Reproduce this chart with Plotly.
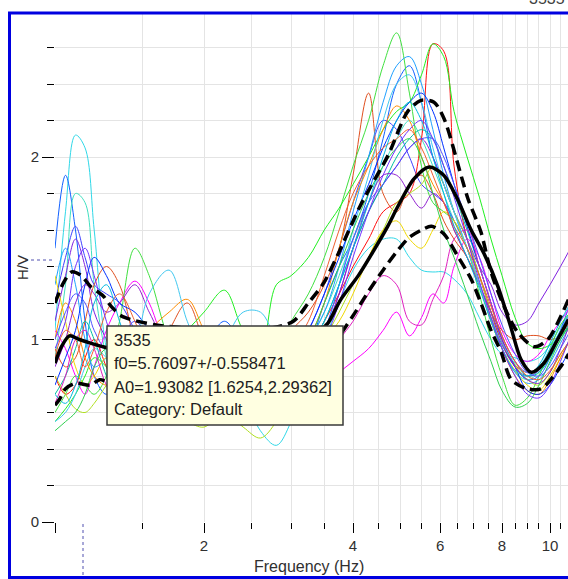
import plotly.graph_objects as go
import math

# ---------------- data ----------------
freq = [1.0, 1.05, 1.1, 1.15, 1.2, 1.27, 1.35, 1.45, 1.55, 1.7, 1.85, 2.0, 2.2, 2.4, 2.6, 2.8,
        3.0, 3.25, 3.5, 3.75, 4.0, 4.3, 4.6, 4.9, 5.2, 5.5, 5.8, 6.1, 6.4, 6.8, 7.2, 7.6,
        8.0, 8.5, 9.0, 9.5, 10.0, 10.5, 11.0]

c01 = [1.05, 1.7, 2.12, 2.05, 1.6, 0.95, 0.7, 0.85, 0.8, 0.7, 0.65, 0.75, 0.85, 0.7, 0.5, 0.42,
       0.55, 0.8, 1.0, 1.2, 1.38, 1.5, 1.55, 1.55, 1.45, 1.38, 1.37, 1.37, 1.33, 1.25, 1.12, 1.0,
       0.92, 0.9, 0.88, 0.9, 0.97, 1.07, 1.15]
c02 = [1.5, 1.9, 1.6, 1.1, 0.8, 0.7, 0.9, 1.05, 0.9, 0.75, 0.8, 0.95, 1.1, 0.95, 0.8, 0.75,
       0.8, 0.95, 1.2, 1.4, 1.55, 1.8, 2.1, 2.4, 2.5, 2.3, 2.0, 1.85, 1.7, 1.55, 1.35, 1.15,
       0.98, 0.85, 0.78, 0.8, 0.9, 1.05, 1.2]
c03 = [0.9, 1.3, 1.8, 1.75, 1.3, 0.9, 0.65, 0.6, 0.75, 0.9, 0.8, 0.7, 0.75, 0.8, 0.85, 0.9,
       0.95, 1.0, 1.15, 1.35, 1.55, 1.75, 1.95, 2.1, 2.2, 2.1, 1.95, 1.8, 1.65, 1.5, 1.3, 1.1,
       0.95, 0.82, 0.78, 0.82, 0.92, 1.03, 1.12]
c04 = [1.2, 1.45, 1.62, 1.45, 1.3, 1.25, 1.2, 1.05, 0.9, 0.85, 0.95, 1.0, 0.9, 0.8, 0.75, 0.8,
       0.9, 1.05, 1.25, 1.5, 1.75, 2.0, 2.2, 2.15, 2.0, 1.85, 1.8, 1.75, 1.65, 1.5, 1.3, 1.12,
       0.97, 0.85, 0.8, 0.83, 0.93, 1.05, 1.15]
c05 = [1.1, 1.35, 1.55, 1.4, 1.15, 1.0, 0.85, 0.8, 0.75, 0.7, 0.8, 0.9, 1.0, 0.95, 0.85, 0.8,
       0.85, 0.95, 1.05, 1.25, 1.5, 1.7, 1.85, 1.95, 2.05, 2.1, 2.0, 1.85, 1.7, 1.55, 1.4, 1.3,
       1.15, 1.08, 1.1, 1.2, 1.3, 1.4, 1.5]
c06 = [1.05, 0.95, 0.8, 0.7, 0.85, 1.05, 1.2, 1.32, 1.2, 0.9, 0.75, 0.8, 0.9, 0.85, 0.75, 0.7,
       0.72, 0.72, 0.75, 0.82, 0.88, 0.95, 1.05, 1.15, 1.02, 1.12, 1.25, 1.2, 1.4, 1.55, 1.45, 1.25,
       1.05, 0.92, 0.88, 0.92, 1.02, 1.1, 1.18]
c07 = [0.95, 0.85, 0.9, 1.1, 1.3, 1.4, 1.3, 1.0, 0.85, 1.05, 1.2, 1.0, 0.85, 0.8, 0.85, 0.95,
       1.05, 1.15, 1.3, 1.5, 1.9, 2.35, 1.8, 1.7, 1.85, 1.9, 1.8, 1.65, 1.55, 1.45, 1.3, 1.15,
       1.05, 1.0, 1.02, 1.02, 1.0, 1.02, 1.08]
c08 = [0.8, 0.7, 0.75, 0.9, 1.0, 0.85, 0.7, 0.75, 0.9, 0.8, 0.7, 0.75, 0.8, 0.75, 0.72, 0.78,
       0.85, 0.95, 1.1, 1.25, 1.4, 1.55, 1.7, 1.75, 1.8, 2.1, 2.62, 2.58, 1.95, 1.55, 1.35, 1.15,
       0.98, 0.86, 0.82, 0.85, 0.92, 1.02, 1.1]
c09 = [0.6, 0.7, 0.8, 0.75, 0.7, 0.8, 1.1, 1.5, 1.35, 1.0, 0.85, 0.9, 1.0, 0.9, 0.85, 0.95,
       1.1, 1.25, 1.45, 1.7, 1.95, 2.2, 2.5, 2.68, 2.35, 1.95, 1.75, 1.7, 1.65, 1.5, 1.25, 1.0,
       0.8, 0.64, 0.68, 0.8, 0.95, 1.08, 1.15]
c10 = [0.55, 0.62, 0.7, 0.8, 0.9, 0.85, 0.75, 0.7, 0.8, 0.95, 1.05, 1.15, 1.27, 1.05, 0.95, 1.3,
       1.35, 1.45, 1.6, 1.72, 1.85, 2.0, 2.15, 2.25, 2.3, 2.45, 2.62, 2.55, 2.25, 2.0, 1.78, 1.55,
       1.35, 1.12, 0.98, 0.95, 0.97, 1.02, 1.08]
c11 = [0.7, 0.8, 0.95, 1.1, 1.0, 0.8, 0.65, 0.7, 0.85, 0.95, 0.85, 0.8, 0.82, 0.9, 0.95, 0.9,
       0.88, 0.95, 1.1, 1.3, 1.5, 1.7, 1.85, 2.0, 2.1, 2.15, 2.1, 1.95, 1.8, 1.6, 1.4, 1.2,
       1.02, 0.88, 0.8, 0.82, 0.9, 1.0, 1.1]
c12 = [1.3, 1.5, 1.3, 1.0, 0.85, 0.9, 1.0, 0.9, 0.8, 0.75, 0.7, 0.72, 0.78, 0.85, 0.9, 0.88,
       0.9, 1.0, 1.15, 1.4, 1.7, 2.0, 2.3, 2.5, 2.55, 2.4, 2.15, 1.9, 1.7, 1.5, 1.3, 1.1,
       0.95, 0.82, 0.76, 0.78, 0.87, 0.98, 1.08]
c13 = [0.8, 0.7, 0.62, 0.6, 0.65, 0.75, 0.85, 0.8, 0.7, 0.6, 0.55, 0.52, 0.6, 0.52, 0.46, 0.55,
       0.7, 0.85, 1.0, 1.15, 1.3, 1.45, 1.6, 1.75, 1.8, 1.85, 1.95, 1.85, 1.7, 1.55, 1.35, 1.15,
       1.0, 0.86, 0.78, 0.75, 0.82, 0.92, 1.0]
c14 = [1.35, 1.1, 0.85, 0.75, 0.8, 0.9, 0.8, 0.65, 0.6, 0.7, 0.8, 0.75, 0.65, 0.6, 0.65, 0.72,
       0.8, 0.9, 1.0, 1.1, 1.25, 1.45, 1.6, 1.65, 1.55, 1.5, 1.6, 1.7, 1.65, 1.5, 1.3, 1.1,
       0.95, 0.83, 0.75, 0.72, 0.8, 0.9, 1.0]
c15 = [1.0, 1.2, 1.1, 0.9, 0.8, 0.75, 0.8, 0.95, 1.05, 1.15, 1.22, 1.05, 0.85, 0.75, 0.7, 0.75,
       0.85, 1.0, 1.2, 1.5, 1.75, 1.95, 2.15, 2.28, 2.2, 2.0, 1.85, 1.75, 1.6, 1.45, 1.3, 1.12,
       0.95, 0.8, 0.72, 0.7, 0.78, 0.9, 1.0]
c16 = [0.75, 0.9, 1.05, 1.3, 1.45, 1.35, 1.2, 1.15, 1.05, 0.9, 0.78, 0.7, 0.72, 0.8, 0.78, 0.82,
       0.9, 1.05, 1.25, 1.45, 1.65, 1.85, 2.05, 2.2, 2.3, 2.35, 2.25, 2.05, 1.85, 1.62, 1.4, 1.2,
       1.0, 0.85, 0.72, 0.7, 0.75, 0.85, 0.95]
c17 = [0.85, 1.0, 1.2, 1.3, 1.25, 1.15, 1.2, 1.3, 1.15, 0.95, 0.88, 0.85, 0.8, 0.9, 1.0, 0.95,
       0.9, 0.95, 1.05, 1.25, 1.5, 1.75, 1.9, 1.9, 1.8, 1.72, 1.8, 1.75, 1.6, 1.45, 1.3, 1.15,
       1.0, 0.85, 0.78, 0.76, 0.82, 0.95, 1.1]
c18 = [0.65, 0.8, 1.0, 1.05, 0.95, 0.75, 0.65, 0.7, 0.82, 0.75, 0.7, 0.78, 0.85, 0.8, 0.72, 0.68,
       0.72, 0.8, 0.9, 1.0, 1.1, 1.25, 1.35, 1.3, 1.1, 1.08, 1.22, 1.35, 1.55, 1.6, 1.4, 1.2,
       1.02, 0.88, 0.82, 0.84, 0.92, 1.02, 1.12]
c19 = [0.55, 0.6, 0.7, 0.85, 0.95, 0.9, 0.8, 0.95, 1.25, 1.38, 1.1, 0.9, 1.0, 1.15, 1.15, 1.0,
       0.9, 0.92, 1.05, 1.3, 1.6, 1.9, 2.2, 2.4, 2.45, 2.3, 2.05, 1.85, 1.7, 1.5, 1.3, 1.12,
       0.98, 0.87, 0.82, 0.85, 0.95, 1.05, 1.15]
c20 = [0.5, 0.55, 0.6, 0.7, 0.85, 0.95, 0.9, 0.8, 0.7, 0.65, 0.72, 0.8, 0.75, 0.7, 0.78, 0.85,
       0.9, 1.0, 1.2, 1.4, 1.6, 1.8, 1.95, 2.05, 2.1, 2.0, 1.8, 1.6, 1.45, 1.25, 1.05, 0.88,
       0.72, 0.63, 0.65, 0.75, 0.88, 1.0, 1.08]
c21 = [1.0, 1.15, 1.25, 1.2, 1.05, 0.95, 1.0, 1.1, 1.0, 0.85, 0.75, 0.72, 0.8, 0.88, 0.92, 0.85,
       0.82, 0.9, 1.05, 1.3, 1.55, 1.75, 1.85, 1.95, 2.05, 2.1, 2.1, 2.0, 1.85, 1.65, 1.45, 1.25,
       1.08, 0.92, 0.82, 0.8, 0.85, 0.95, 1.05]
c22 = [0.9, 1.05, 1.0, 0.85, 0.95, 1.15, 1.25, 1.1, 0.9, 0.8, 0.85, 0.95, 0.9, 0.82, 0.8, 0.85,
       0.95, 1.1, 1.35, 1.6, 1.8, 1.95, 2.05, 2.1, 2.15, 2.05, 1.9, 1.75, 1.62, 1.5, 1.35, 1.18,
       1.02, 0.88, 0.8, 0.78, 0.83, 0.92, 1.0]
c23 = [0.7, 0.65, 0.75, 0.95, 1.2, 1.3, 1.1, 0.85, 0.7, 0.62, 0.65, 0.7, 0.68, 0.62, 0.6, 0.68,
       0.8, 0.95, 1.1, 1.3, 1.5, 1.75, 2.0, 2.2, 2.3, 2.2, 2.0, 1.8, 1.62, 1.45, 1.28, 1.1,
       0.95, 0.83, 0.8, 0.86, 0.98, 1.1, 1.2]
c24 = [0.95, 1.1, 1.4, 1.5, 1.35, 1.1, 0.9, 0.75, 0.7, 0.8, 0.95, 0.88, 0.75, 0.7, 0.75, 0.8,
       0.85, 0.9, 1.0, 1.2, 1.45, 1.7, 1.9, 2.05, 2.15, 2.2, 2.1, 1.95, 1.78, 1.55, 1.32, 1.12,
       0.95, 0.8, 0.7, 0.68, 0.75, 0.88, 1.02]

windows = [c01, c02, c03, c04, c05, c06, c07, c08, c09, c10, c11, c12,
           c13, c14, c15, c16, c17, c18, c19, c20, c21, c22, c23, c24]
window_colors = ["#30d8e8", "#1060ff", "#40e0c0", "#4040ff", "#8020e0", "#ff00ff",
                 "#e05020", "#ff1010", "#40e040", "#20f020", "#00c0a0", "#20a0ff",
                 "#b0e020", "#f0d800", "#ff8c00", "#0030ff", "#9020d0", "#e020c0",
                 "#40c8f0", "#30d050", "#5050ff", "#f06030", "#00b8e0", "#7030ff"]

mean_f = [1.0, 1.03, 1.07, 1.12, 1.18, 1.25, 1.35, 1.5, 1.7, 2.0, 2.3, 2.6, 2.9, 3.2, 3.4, 3.56,
          3.78, 4.1, 4.41, 4.7, 4.93, 5.31, 5.7, 6.1, 6.5, 6.93, 7.36, 7.85, 8.33, 8.74, 9.17,
          9.72, 10.36, 10.9]
mean_v = [0.87, 0.96, 1.02, 1.0, 0.98, 0.96, 0.94, 0.93, 0.92, 0.9, 0.89, 0.9, 0.94, 1.0, 1.04,
          1.09, 1.22, 1.35, 1.49, 1.62, 1.73, 1.88, 1.945, 1.9, 1.77, 1.6, 1.47, 1.29, 1.07,
          0.89, 0.82, 0.87, 1.0, 1.11]
up_f = [1.0, 1.04, 1.08, 1.13, 1.18, 1.25, 1.3, 1.36, 1.42, 1.6, 1.9, 2.3, 2.7, 3.03, 3.25,
        3.49, 3.75, 4.15, 4.71, 5.16, 5.49, 5.83, 6.11, 6.61, 6.83, 7.25, 7.6, 8.08, 8.6, 9.3,
        9.9, 10.4, 10.9]
up_v = [1.2, 1.31, 1.37, 1.35, 1.29, 1.24, 1.18, 1.13, 1.11, 1.08, 1.06, 1.05, 1.06, 1.1, 1.2,
        1.31, 1.48, 1.74, 2.01, 2.25, 2.31, 2.30, 2.21, 1.9, 1.77, 1.59, 1.37, 1.18, 1.04, 0.96,
        1.0, 1.1, 1.22]
lo_f = [1.0, 1.02, 1.05, 1.1, 1.18, 1.23, 1.3, 1.5, 1.8, 2.2, 2.6, 3.0, 3.3, 3.6, 4.0, 4.29,
        4.6, 4.93, 5.2, 5.5, 5.76, 6.1, 6.5, 6.93, 7.25, 7.6, 7.97, 8.35, 9.0, 9.6, 10.5, 10.9]
lo_v = [0.64, 0.67, 0.73, 0.76, 0.75, 0.78, 0.76, 0.74, 0.72, 0.71, 0.72, 0.76, 0.82, 0.95,
        1.13, 1.26, 1.38, 1.49, 1.56, 1.6, 1.62, 1.58, 1.46, 1.33, 1.2, 1.05, 0.93, 0.78, 0.73,
        0.73, 0.85, 0.92]

f0 = 5.76097
f0_std = 0.558471
tooltip_lines = ["3535", "f0=5.76097+/-0.558471", "A0=1.93082 [1.6254,2.29362]", "Category: Default"]
x_major = [1, 2, 4, 6, 8, 10]
x_major_text = ["", "2", "4", "6", "8", "10"]
x_minor = [1.5, 2.5, 3, 3.5, 4.5, 5, 5.5, 6.5, 7, 7.5, 8.5, 9, 9.5, 10.5]

# ---------------- figure ----------------
W, H = 568, 579
L, R, T, B = 55, 0, 14, 57
pw, ph = W - L - R, H - T - B


def px(x):
    return (x - L) / pw


def py(y):
    return (H - B - y) / ph


fig = go.Figure()
for vals, col in zip(windows, window_colors):
    fig.add_trace(go.Scatter(x=freq, y=vals, mode="lines",
                             line=dict(color=col, width=1, shape="spline", smoothing=1.0),
                             hoverinfo="skip", showlegend=False))

for fx, fy, dash in [(up_f, up_v, "11px,6px"), (lo_f, lo_v, "11px,6px"), (mean_f, mean_v, "solid")]:
    fig.add_trace(go.Scatter(x=fx, y=fy, mode="lines",
                             line=dict(color="black", width=3.5, dash=dash, shape="spline", smoothing=0.8),
                             hoverinfo="skip", showlegend=False))

shapes = []
# f0 bands
shapes.append(dict(type="rect", xref="x", yref="paper", layer="between",
                   x0=math.log10(f0 - f0_std), x1=math.log10(f0), y0=0, y1=1,
                   fillcolor="#bfbfbf", line=dict(width=0)))
shapes.append(dict(type="rect", xref="x", yref="paper", layer="between",
                   x0=math.log10(f0), x1=math.log10(f0 + f0_std), y0=0, y1=1,
                   fillcolor="#a2a2a2", line=dict(width=0)))
# tooltip box
shapes.append(dict(type="rect", xref="paper", yref="paper", layer="above",
                   x0=px(107), x1=px(343), y0=py(425), y1=py(326),
                   fillcolor="#ffffe1", line=dict(color="#3a3a3a", width=1.5)))
# cursor dotted lines
shapes.append(dict(type="line", xref="paper", yref="paper", layer="above",
                   x0=px(83), x1=px(83), y0=py(524), y1=py(577),
                   line=dict(color="#5050b0", width=1, dash="dot")))
shapes.append(dict(type="line", xref="paper", yref="paper", layer="above",
                   x0=px(25), x1=px(55), y0=py(260), y1=py(260),
                   line=dict(color="#5050b0", width=1, dash="dot")))
# blue frame
shapes.append(dict(type="rect", xref="paper", yref="paper", layer="above",
                   x0=px(9.5), x1=px(590), y0=py(577.5), y1=py(13),
                   line=dict(color="#0000e0", width=3)))

annotations = []
line_y = [340, 363, 387, 409]
for txt, yy in zip(tooltip_lines, line_y):
    annotations.append(dict(xref="paper", yref="paper", x=px(112), y=py(yy),
                            xanchor="left", yanchor="middle", showarrow=False, text=txt,
                            font=dict(family="Liberation Sans, Arial, sans-serif", size=16.5, color="#202020")))
annotations.append(dict(xref="paper", yref="paper", x=px(309), y=py(566), xanchor="center",
                        yanchor="middle", showarrow=False, text="Frequency (Hz)",
                        font=dict(family="Liberation Sans, Arial, sans-serif", size=16, color="#303030")))
annotations.append(dict(xref="paper", yref="paper", x=px(22), y=py(268), xanchor="center",
                        yanchor="middle", showarrow=False, text="H/V", textangle=-90,
                        font=dict(family="Liberation Sans, Arial, sans-serif", size=15, color="#303030")))
annotations.append(dict(xref="paper", yref="paper", x=px(547), y=py(-2), xanchor="center",
                        yanchor="middle", showarrow=False, text="3535",
                        font=dict(family="Liberation Sans, Arial, sans-serif", size=16, color="#404040")))

grid_col = "#e4e4e4"
fig.update_layout(
    width=W, height=H, margin=dict(l=L, r=R, t=T, b=B, pad=0, autoexpand=False),
    paper_bgcolor="white", plot_bgcolor="white",
    shapes=shapes, annotations=annotations, hovermode=False,
    font=dict(family="Liberation Sans, Arial, sans-serif", size=16, color="#303030"),
    xaxis=dict(type="log", range=[0, pw / 495.0], tickmode="array", tickvals=x_major,
               ticktext=x_major_text, ticks="outside", ticklen=10, tickwidth=1.2, tickcolor="black",
               showgrid=True, gridcolor=grid_col, gridwidth=1, showline=False, zeroline=False,
               tickfont=dict(size=15), automargin=False,
               minor=dict(tickmode="array", tickvals=x_minor, ticks="outside", ticklen=6,
                          tickcolor="black", tickwidth=1.2, showgrid=True, gridcolor=grid_col)),
    yaxis=dict(range=[0, ph / 182.5], tickmode="array", tickvals=[0, 1, 2], ticks="outside",
               ticklen=12, tickwidth=1.2, tickcolor="black", showgrid=True, gridcolor=grid_col,
               showline=False, zeroline=False, tickfont=dict(size=15), automargin=False,
               minor=dict(dtick=0.2, tick0=0, ticks="outside", ticklen=7, tickcolor="black",
                          tickwidth=1.2, showgrid=True, gridcolor=grid_col)),
)

fig.write_html("out.html", config={"displayModeBar": False},
               post_script="document.body.style.margin='0px';document.body.style.overflow='hidden';")
